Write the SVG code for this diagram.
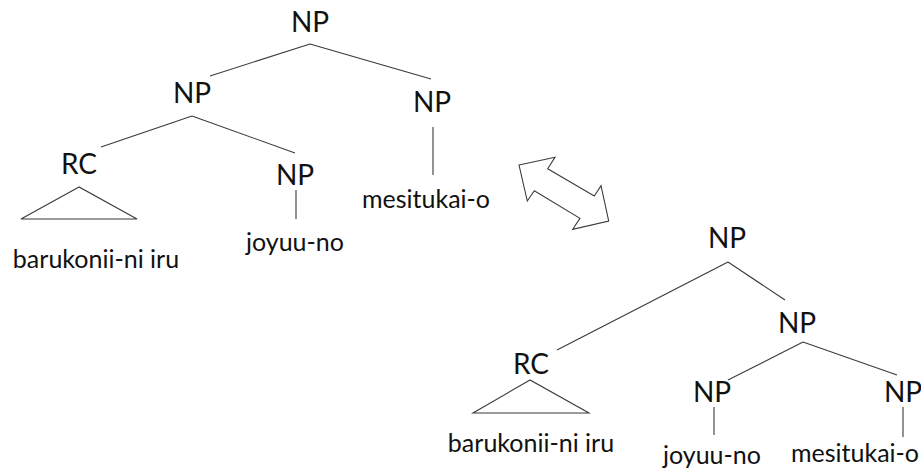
<svg xmlns="http://www.w3.org/2000/svg" width="921" height="470" viewBox="0 0 921 470">
  <style>
    text { font-family: Lato, "Open Sans", "Liberation Sans", sans-serif; fill: #111; text-anchor: middle; }
    .cat { font-size: 28px; }
    .leaf { font-size: 25px; }
    .edge { stroke: #3a3a3a; stroke-width: 1.1; fill: none; }
    .tri { stroke: #3a3a3a; stroke-width: 1.1; fill: none; stroke-linejoin: miter; }
    .dbl { stroke: #3a3a3a; stroke-width: 1.1; fill: #fff; stroke-linejoin: miter; }
  </style>
  <rect width="921" height="470" fill="#fff"/>

  <!-- left tree: [NP [NP RC NP] NP] -->
  <g id="t1-np-root"><text class="cat" x="310" y="32">NP</text></g>
  <g id="t1-np-left"><text class="cat" x="192" y="103">NP</text></g>
  <g id="t1-np-right"><text class="cat" x="432" y="112">NP</text></g>
  <g id="t1-rc"><text class="cat" x="79" y="174">RC</text>
    <polygon class="tri" points="79,187 21,219 137,219"/></g>
  <g id="t1-np-joyuu"><text class="cat" x="295" y="185">NP</text></g>
  <g id="t1-leaf-rc"><text class="leaf" x="96" y="268">barukonii-ni iru</text></g>
  <g id="t1-leaf-joyuu"><text class="leaf" x="295" y="251">joyuu-no</text></g>
  <g id="t1-leaf-mesi"><text class="leaf" x="426" y="208">mesitukai-o</text></g>

  <!-- right tree: [NP RC [NP NP NP]] -->
  <g id="t2-np-root"><text class="cat" x="727" y="248">NP</text></g>
  <g id="t2-np-mid"><text class="cat" x="797" y="333">NP</text></g>
  <g id="t2-rc"><text class="cat" x="531" y="374">RC</text>
    <polygon class="tri" points="530,380 473,413 589,413"/></g>
  <g id="t2-np-joyuu"><text class="cat" x="712" y="402">NP</text></g>
  <g id="t2-np-mesi"><text class="cat" x="903" y="402">NP</text></g>
  <g id="t2-leaf-rc"><text class="leaf" x="531" y="452">barukonii-ni iru</text></g>
  <g id="t2-leaf-joyuu"><text class="leaf" x="712" y="464">joyuu-no</text></g>
  <g id="t2-leaf-mesi"><text class="leaf" x="855" y="462">mesitukai-o</text></g>

  <!-- double-headed block arrow between the trees -->
  <g id="swap-arrow">
    <polygon class="dbl" points="519,165 555,157.3 547.7,168.7 594.3,196 601,185.7 608.7,221 572.7,229.3 580,218.3 534.3,190.7 527.3,201"/>
  </g>

  <g id="connectors">
    <line class="edge" x1="310" y1="44" x2="210" y2="76"/>
    <line class="edge" x1="310" y1="44" x2="431" y2="79"/>
    <line class="edge" x1="192" y1="116" x2="101" y2="147"/>
    <line class="edge" x1="192" y1="116" x2="295" y2="153"/>
    <line class="edge" x1="433" y1="127" x2="433" y2="175"/>
    <line class="edge" x1="296" y1="190" x2="296" y2="219"/>

    <line class="edge" x1="728" y1="262" x2="557" y2="350"/>
    <line class="edge" x1="728" y1="262" x2="785" y2="300"/>
    <line class="edge" x1="803" y1="342" x2="728" y2="380"/>
    <line class="edge" x1="803" y1="342" x2="897" y2="375"/>
    <line class="edge" x1="714" y1="407" x2="714" y2="435"/>
    <line class="edge" x1="903" y1="407" x2="903" y2="437"/>
  </g>
</svg>
